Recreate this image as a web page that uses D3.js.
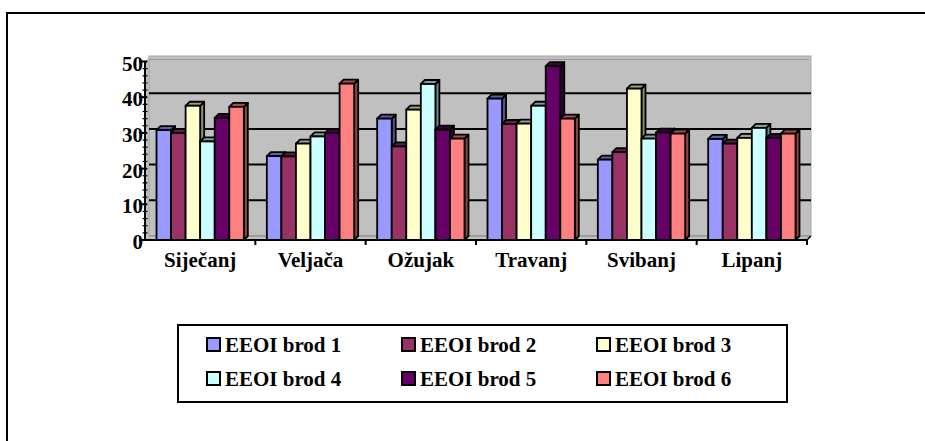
<!DOCTYPE html>
<html>
<head>
<meta charset="utf-8">
<script src="https://cdn.jsdelivr.net/npm/d3@7"></script>
<style>
  html, body { margin: 0; padding: 0; background: #fff; }
  svg { display: block; }
  text { font-family: "Liberation Serif", Tinos, "Times New Roman", serif; font-weight: bold; fill: #000; }
</style>
</head>
<body>
<svg id="chart" width="925" height="441"></svg>
<script>
// Monthly EEOI values per ship
const months = ["Siječanj", "Veljača", "Ožujak", "Travanj", "Svibanj", "Lipanj"];
const seriesNames = ["EEOI brod 1", "EEOI brod 2", "EEOI brod 3", "EEOI brod 4", "EEOI brod 5", "EEOI brod 6"];
const brod1 = [30.8, 23.5, 34.0, 39.6, 22.5, 28.3];
const brod2 = [30.0, 23.4, 26.2, 32.5, 24.6, 27.0];
const brod3 = [37.6, 27.0, 36.5, 32.6, 42.4, 28.6];
const brod4 = [27.6, 29.0, 43.7, 37.6, 28.4, 31.4];
const brod5 = [34.2, 30.0, 30.9, 48.7, 30.1, 28.6];
const brod6 = [37.3, 43.8, 28.4, 34.0, 29.8, 29.8];
const seriesValues = [brod1, brod2, brod3, brod4, brod5, brod6];
const seriesColors = ["#9999FF", "#993366", "#FFFFCC", "#CCFFFF", "#660066", "#FF8080"];
const yTicks = [0, 10, 20, 30, 40, 50];

const svg = d3.select("#chart");
const FONT = 20, STRETCH = 1.05;

// outer frame (runs off the right and bottom edges)
svg.append("rect").attr("x", 7).attr("y", 13).attr("width", 1200).attr("height", 1200)
  .attr("fill", "#fff").attr("stroke", "#000").attr("stroke-width", 2);

// plot geometry
const pLeft = 145, pRight = 807, pBottom = 240, pTop = 61.5;
const dx = 4, dy = -4;   // depth offset of the 3D walls and bars

const x0 = d3.scaleBand().domain(months).range([pLeft, pRight]).padding(0);
const x1 = d3.scaleBand().domain(seriesNames).range([0, x0.bandwidth()]).paddingInner(0).paddingOuter(0.79);
const y = d3.scaleLinear().domain([0, 50]).range([pBottom, pTop]);

const g = svg.append("g");

// back wall, side wall and floor
g.append("polygon")
  .attr("points", [[pLeft, y(50)], [pLeft + dx, y(50) + dy], [pLeft + dx, pBottom + dy], [pLeft, pBottom]].join(" "))
  .attr("fill", "#C0C0C0");
g.append("rect")
  .attr("x", pLeft + dx).attr("y", y(50) + dy - 1.5)
  .attr("width", pRight - pLeft).attr("height", pBottom - y(50) + 1.5)
  .attr("fill", "#C0C0C0").attr("stroke", "#a8a8a8").attr("stroke-width", 1);
g.append("polygon")
  .attr("points", [[pLeft, pBottom], [pLeft + dx, pBottom + dy], [pRight + dx, pBottom + dy], [pRight, pBottom]].join(" "))
  .attr("fill", "#C0C0C0");
g.append("line")
  .attr("x1", pLeft + dx).attr("x2", pRight + dx)
  .attr("y1", pBottom + dy).attr("y2", pBottom + dy)
  .attr("stroke", "#808080").attr("stroke-width", 1);

// gridlines on the back wall
g.selectAll("line.grid").data(yTicks.filter(v => v > 0 && v < 50)).join("line")
  .attr("class", "grid")
  .attr("x1", pLeft + dx).attr("x2", pRight + dx)
  .attr("y1", v => y(v) + dy).attr("y2", v => y(v) + dy)
  .attr("stroke", "#000").attr("stroke-width", 2);
g.append("line")
  .attr("x1", pLeft + dx).attr("x2", pRight + dx - 2)
  .attr("y1", y(50) + dy + 2).attr("y2", y(50) + dy + 2)
  .attr("stroke", "#9a9a9a").attr("stroke-width", 1);

// 3D bars: side, top and front faces, drawn left to right
function shade(c, k) {
  const r = d3.rgb(c);
  return d3.rgb(r.r * k, r.g * k, r.b * k).formatHex();
}
const bars = [];
months.forEach((m, i) => {
  seriesNames.forEach((s, j) => {
    bars.push({ month: m, series: s, value: seriesValues[j][i], color: seriesColors[j] });
  });
});
const w = x1.bandwidth();
const SW = 1.8;
const barG = g.selectAll("g.bar").data(bars).join("g").attr("class", "bar");
barG.each(function (d) {
  const bx = x0(d.month) + x1(d.series);
  const ty = y(d.value);
  const el = d3.select(this);
  el.append("polygon")
    .attr("points", [[bx + w, ty], [bx + w + dx, ty + dy], [bx + w + dx, pBottom + dy], [bx + w, pBottom]].join(" "))
    .attr("fill", shade(d.color, 0.55)).attr("stroke", "#000").attr("stroke-width", SW).attr("stroke-linejoin", "round");
  el.append("polygon")
    .attr("points", [[bx, ty], [bx + dx, ty + dy], [bx + w + dx, ty + dy], [bx + w, ty]].join(" "))
    .attr("fill", shade(d.color, 0.62)).attr("stroke", "#000").attr("stroke-width", SW).attr("stroke-linejoin", "round");
  el.append("rect")
    .attr("x", bx).attr("y", ty).attr("width", w).attr("height", pBottom - ty)
    .attr("fill", d.color).attr("stroke", "#000").attr("stroke-width", SW);
});

// value axis
const axisG = svg.append("g");
axisG.append("line").attr("x1", pLeft).attr("x2", pLeft).attr("y1", pBottom + 1).attr("y2", pTop)
  .attr("stroke", "#000").attr("stroke-width", 2);
const minor = d3.range(0, 50.001, 2);
axisG.selectAll("line.minor").data(minor).join("line")
  .attr("class", "minor")
  .attr("x1", pLeft - 2.5).attr("x2", pLeft + 2.5)
  .attr("y1", v => y(v)).attr("y2", v => y(v))
  .attr("stroke", "#000").attr("stroke-width", 1.2);
axisG.selectAll("line.major").data(yTicks).join("line")
  .attr("class", "major")
  .attr("x1", pLeft - 6).attr("x2", pLeft + 2)
  .attr("y1", v => y(v)).attr("y2", v => y(v))
  .attr("stroke", "#000").attr("stroke-width", 2);
axisG.selectAll("text.ytick").data(yTicks).join("text")
  .attr("class", "ytick")
  .attr("transform", v => `translate(${pLeft - 2},${y(v) + 9}) scale(${STRETCH},1)`)
  .attr("text-anchor", "end").attr("font-size", FONT)
  .text(v => v);

// category axis
axisG.append("line").attr("x1", pLeft).attr("x2", pRight).attr("y1", pBottom).attr("y2", pBottom)
  .attr("stroke", "#000").attr("stroke-width", 2);
axisG.append("line").attr("x1", pRight).attr("x2", pRight + dx).attr("y1", pBottom).attr("y2", pBottom + dy)
  .attr("stroke", "#000").attr("stroke-width", 1.5);
const bounds = months.map(m => x0(m)).concat([pRight]);
axisG.selectAll("line.xtick").data(bounds.slice(1)).join("line")
  .attr("class", "xtick")
  .attr("x1", d => d).attr("x2", d => d).attr("y1", pBottom).attr("y2", pBottom + 5)
  .attr("stroke", "#000").attr("stroke-width", 2);
axisG.selectAll("text.xlab").data(months).join("text")
  .attr("class", "xlab")
  .attr("transform", m => `translate(${x0(m) + x0.bandwidth() / 2},${pBottom + 27}) scale(${STRETCH},1)`)
  .attr("text-anchor", "middle").attr("font-size", FONT)
  .text(m => m);

// legend
const lg = svg.append("g");
lg.append("rect").attr("x", 178).attr("y", 325).attr("width", 609).attr("height", 77)
  .attr("fill", "#fff").attr("stroke", "#000").attr("stroke-width", 2);
const colX = [207, 402, 597], rowY = [338, 372];
const items = lg.selectAll("g.item").data(seriesNames).join("g")
  .attr("class", "item")
  .attr("transform", (s, i) => `translate(${colX[i % 3]},${rowY[Math.floor(i / 3)]})`);
items.append("rect").attr("x", 0).attr("y", 0).attr("width", 13).attr("height", 13)
  .attr("fill", (s, i) => seriesColors[i]).attr("stroke", "#000").attr("stroke-width", 2);
items.append("text")
  .attr("transform", `translate(18,14) scale(${STRETCH},1)`)
  .attr("font-size", FONT)
  .text(s => s);
</script>
</body>
</html>
